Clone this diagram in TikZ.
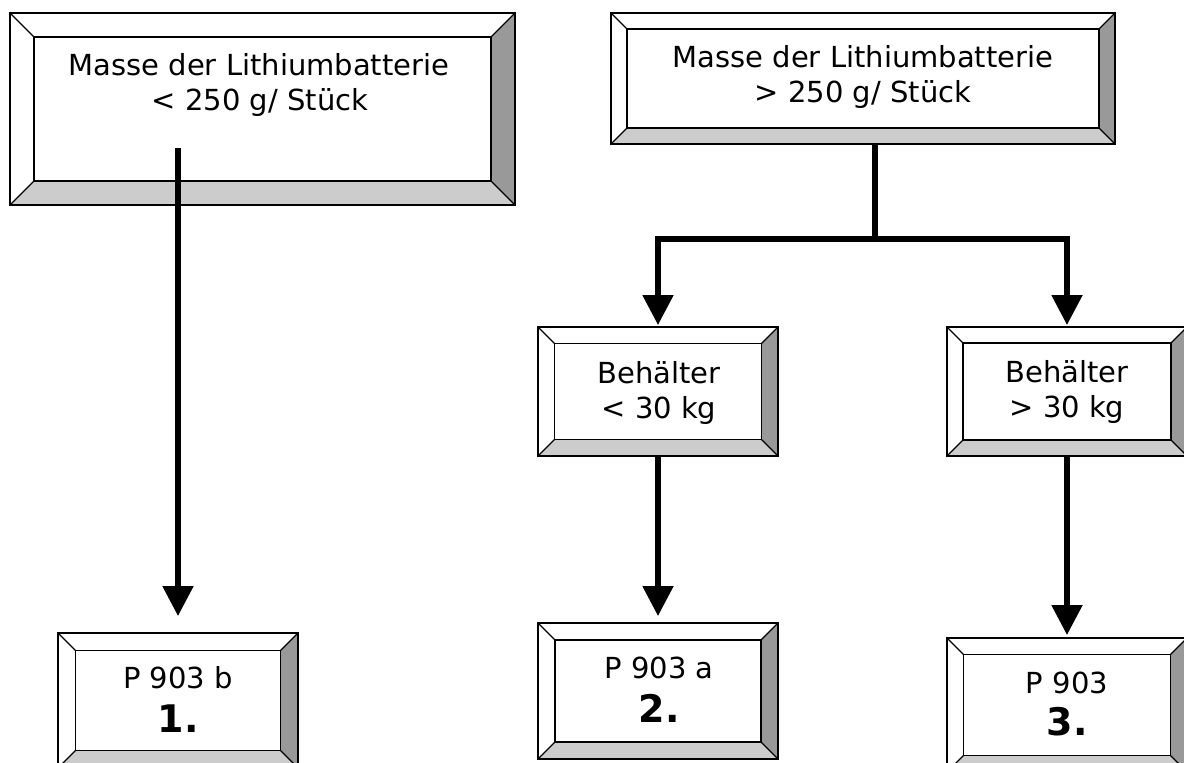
\documentclass[tikz,border=0pt]{standalone}
\usepackage{fontspec}
\setmainfont{DejaVu Sans}
\usetikzlibrary{arrows.meta}
\definecolor{bevdark}{HTML}{999999}
\definecolor{bevlight}{HTML}{CCCCCC}
\tikzset{
  outerbox/.style={draw, line width=1.3pt, inner sep=0pt, outer sep=0pt, rectangle},
  bevedge/.style={draw, line width=1.3pt, line join=miter},
  lbl/.style={inner sep=0pt, anchor=base, font=\fontsize{29}{35}\selectfont},
  numlbl/.style={inner sep=0pt, anchor=base, font=\fontsize{38}{45}\selectfont\bfseries},
  conn/.style={line width=5.3pt},
  arr/.style={conn, -{Triangle[width=30pt,length=30pt]}},
}
% name, x1, y1, x2, y2, bevel
\newcommand\bevbox[6]{%
  \fill[white] (#2,#3) -- (#4,#3) -- ({#4-#6},{#3+#6}) -- ({#2+#6},{#3+#6}) -- cycle;
  \fill[white] (#2,#3) -- ({#2+#6},{#3+#6}) -- ({#2+#6},{#5-#6}) -- (#2,#5) -- cycle;
  \fill[bevdark] (#4,#3) -- (#4,#5) -- ({#4-#6},{#5-#6}) -- ({#4-#6},{#3+#6}) -- cycle;
  \fill[bevlight] (#2,#5) -- (#4,#5) -- ({#4-#6},{#5-#6}) -- ({#2+#6},{#5-#6}) -- cycle;
  \path[bevedge, fill=white] ({#2+#6},{#3+#6}) rectangle ({#4-#6},{#5-#6});
  \draw[bevedge] (#2,#3) -- ({#2+#6},{#3+#6});
  \draw[bevedge] (#4,#3) -- ({#4-#6},{#3+#6});
  \draw[bevedge] (#2,#5) -- ({#2+#6},{#5-#6});
  \draw[bevedge] (#4,#5) -- ({#4-#6},{#5-#6});
  \node[outerbox, minimum width={#4-#2}, minimum height={#5-#3}] (#1) at ({(#2+#4)/2},{(#3+#5)/2}) {};
}
\begin{document}
\begin{tikzpicture}[x=1pt, y=-1pt]
\useasboundingbox (0,0) rectangle (1184,763);
\clip (0,0) rectangle (1184,763);

% boxes
\bevbox{b1}{10}{13}{515}{205}{24}
\bevbox{b2}{611}{13}{1115}{144}{16}
\bevbox{b3}{538}{327}{778}{456}{16.5}
\bevbox{b4}{947}{327}{1187}{456}{16}
\bevbox{b5}{58}{633}{298}{768}{17.5}
\bevbox{b6}{538}{623}{778}{759}{17}
\bevbox{b7}{947}{638}{1187}{772}{16.5}

% texts
\node[lbl] (t1a) at (259,75) {Masse der Lithiumbatterie};
\node[lbl] (t1b) at (260,110) {< 250 g/ Stück};
\node[lbl] (t2a) at (863,67) {Masse der Lithiumbatterie};
\node[lbl] (t2b) at (863,102) {> 250 g/ Stück};
\node[lbl] (t3a) at (659,383) {Behälter};
\node[lbl] (t3b) at (659,418) {< 30 kg};
\node[lbl] (t4a) at (1067,382) {Behälter};
\node[lbl] (t4b) at (1067,417) {> 30 kg};
\node[lbl] (t5a) at (178,688) {P 903 b};
\node[numlbl] (t5b) at (178,732) {1.};
\node[lbl] (t6a) at (659,678) {P 903 a};
\node[numlbl] (t6b) at (659,722) {2.};
\node[lbl] (t7a) at (1067,693) {P 903};
\node[numlbl] (t7b) at (1067,735) {3.};

% connectors
\coordinate (a1s) at (178,148);
\coordinate (s2) at (875,144);
\coordinate (j) at (875,239);
\draw[arr, shorten >=17pt] (a1s) -- (b5.north);
\draw[conn] (s2) -- (j);
\draw[arr, shorten >=2pt] (j) -| (b3.north);
\draw[arr, shorten >=2pt] (j) -| (b4.north);
\draw[arr, shorten >=7pt] (b3.south) -- (b6.north);
\draw[arr, shorten >=3pt] (b4.south) -- (b7.north);
\end{tikzpicture}
\end{document}
